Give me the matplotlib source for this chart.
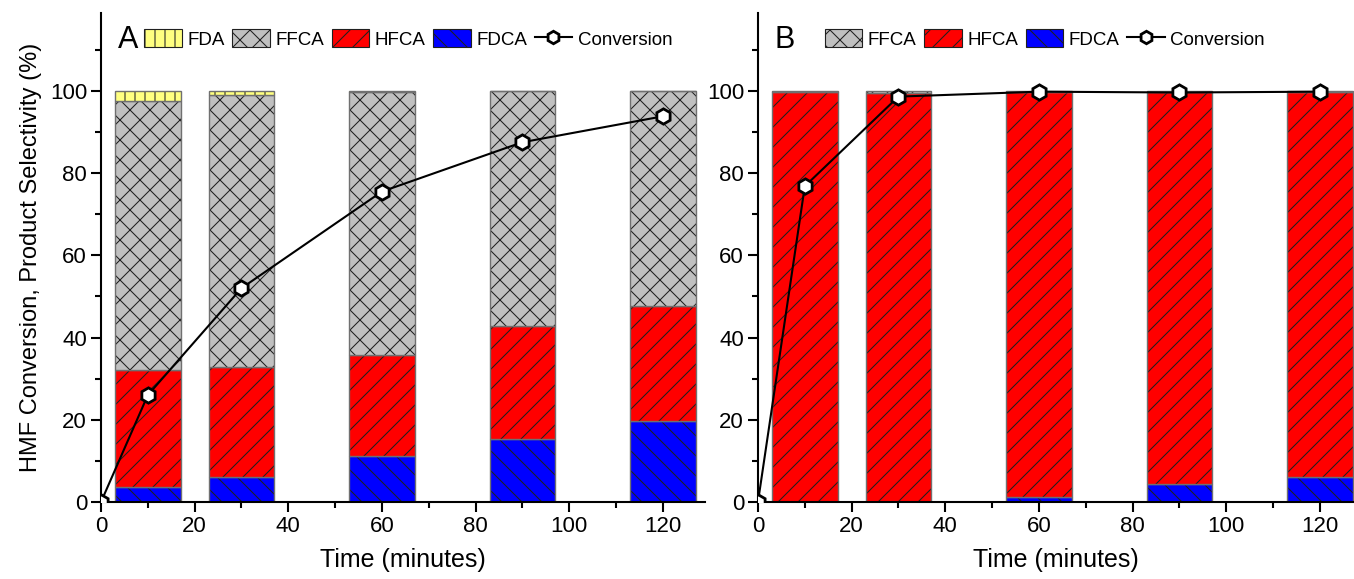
import matplotlib.pyplot as plt
from matplotlib.patches import Patch
from matplotlib.lines import Line2D

# La figura se guarda a 60 dpi para que las tramas queden a ~10 px;
# k convierte los tamaños pensados para 100 dpi.
DPI = 60
k = 100 / DPI

plt.rcParams['font.family'] = ['Liberation Sans', 'DejaVu Sans']
plt.rcParams['hatch.linewidth'] = 0.75 * k

# Tiempos de muestreo (min)
tiempos = [10, 30, 60, 90, 120]

# Panel A: selectividades (%)
fdca_a = [3.7, 6.0, 11.2, 15.3, 19.7]
hfca_a = [28.4, 26.8, 24.5, 27.5, 27.9]
ffca_a = [65.4, 66.2, 63.9, 57.2, 52.4]
fda_a = [2.5, 1.0, 0.4, 0.0, 0.0]
conv_t = [0, 10, 30, 60, 90, 120]
conv_a = [0, 26.0, 52.0, 75.5, 87.5, 93.8]

# Panel B
fdca_b = [0.0, 0.0, 1.2, 4.4, 6.2]
hfca_b = [99.6, 99.4, 98.5, 95.2, 93.5]
ffca_b = [0.4, 0.6, 0.3, 0.4, 0.3]
conv_b = [0, 76.8, 98.6, 99.8, 99.6, 99.8]

colores = {'FDA': '#ffff80', 'FFCA': '#c0c0c0', 'HFCA': '#ff0000', 'FDCA': '#0000ff'}
tramas = {'FDA': '|', 'FFCA': 'x', 'HFCA': '/', 'FDCA': '\\'}

fig = plt.figure(figsize=(1354 / DPI, 579 / DPI), dpi=DPI)
ax_a = fig.add_axes([0.0746, 0.133, 0.446, 0.845])
ax_b = fig.add_axes([0.5598, 0.133, 0.4402, 0.845])


def apilar(ax, series):
    base = [0] * len(tiempos)
    for nombre, vals in series:
        ax.bar(tiempos, vals, width=14, bottom=base, color=colores[nombre],
               hatch=tramas[nombre], edgecolor='#202020', linewidth=0, zorder=2)
        ax.bar(tiempos, vals, width=14, bottom=base, fill=False,
               edgecolor='#707070', linewidth=1 * k, zorder=2)
        base = [b + v for b, v in zip(base, vals)]


def leyenda(ax, nombres, x0):
    h = [Patch(facecolor=colores[n], hatch=tramas[n], edgecolor='#202020', linewidth=0.8 * k)
         for n in nombres]
    h.append(Line2D([], [], color='black', lw=1.5 * k, marker='h', markersize=9 * k,
                    markerfacecolor='white', markeredgecolor='black', markeredgewidth=2 * k))
    ax.legend(h, nombres + ['Conversion'], ncol=len(h), frameon=False, fontsize=13.5 * k,
              loc='upper left', bbox_to_anchor=(x0, 0.993), handlelength=2.0,
              handleheight=1.1, columnspacing=0.4, handletextpad=0.3, borderaxespad=0.3)


apilar(ax_a, [('FDCA', fdca_a), ('HFCA', hfca_a), ('FFCA', ffca_a), ('FDA', fda_a)])
apilar(ax_b, [('FDCA', fdca_b), ('HFCA', hfca_b), ('FFCA', ffca_b)])

for ax, conv in [(ax_a, conv_a), (ax_b, conv_b)]:
    ax.plot(conv_t, conv, color='black', lw=1.5 * k, marker='h', markersize=11 * k,
            markerfacecolor='white', markeredgecolor='black', markeredgewidth=2 * k, zorder=3)
    ax.set_ylim(0, 119)
    ax.set_yticks(range(0, 101, 20))
    ax.set_yticks(range(10, 111, 20), minor=True)
    ax.set_xticks(range(0, 121, 20))
    ax.set_xticks(range(10, 121, 20), minor=True)
    ax.spines['top'].set_visible(False)
    ax.spines['right'].set_visible(False)
    ax.spines['left'].set_linewidth(1.5 * k)
    ax.spines['bottom'].set_linewidth(1.5 * k)
    ax.tick_params(which='major', length=7 * k, width=1.5 * k, labelsize=16 * k, pad=3 * k)
    ax.tick_params(which='minor', length=4 * k, width=1.5 * k)
    ax.set_xlabel('Time (minutes)', fontsize=18 * k, labelpad=8 * k)

ax_a.set_xlim(0, 129)
ax_b.set_xlim(0, 127.3)
ax_a.set_ylabel('HMF Conversion, Product Selectivity (%)', fontsize=17 * k, labelpad=6 * k)

ax_a.text(0.028, 0.975, 'A', transform=ax_a.transAxes, fontsize=22 * k, va='top')
ax_b.text(0.028, 0.975, 'B', transform=ax_b.transAxes, fontsize=22 * k, va='top')
leyenda(ax_a, ['FDA', 'FFCA', 'HFCA', 'FDCA'], 0.05)
leyenda(ax_b, ['FFCA', 'HFCA', 'FDCA'], 0.09)

fig.savefig('out.png', dpi=DPI)
